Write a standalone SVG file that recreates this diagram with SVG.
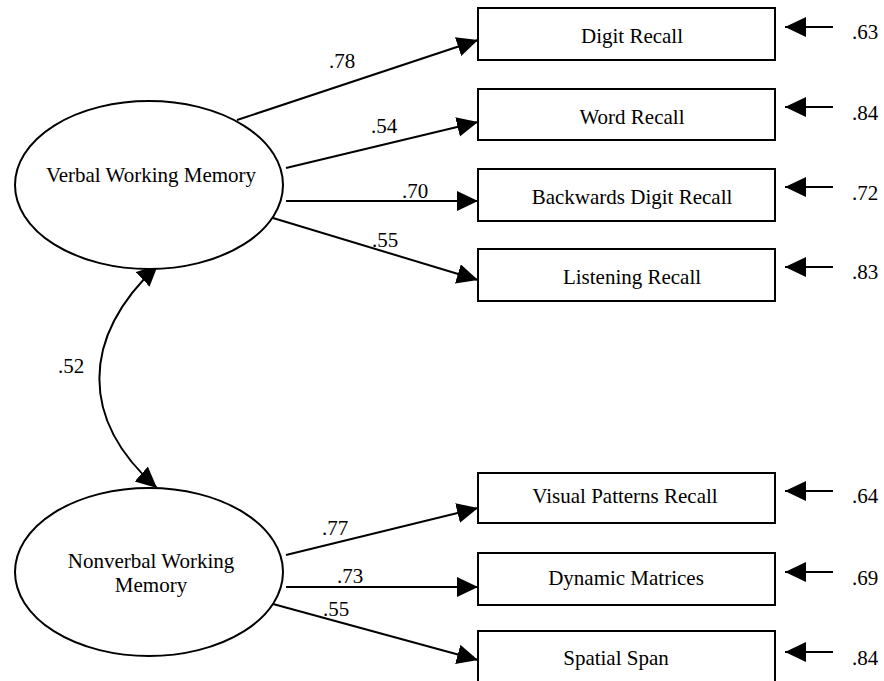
<svg xmlns="http://www.w3.org/2000/svg" width="884" height="681" viewBox="0 0 884 681">
<style>
text{font-family:"Liberation Serif","Times New Roman",serif;font-size:21px;fill:#000}
.n{text-anchor:middle}
.shape{fill:#fff;stroke:#000;stroke-width:2}
.c{fill:none;stroke:#000;stroke-width:2}
</style>
<defs>
<marker id="ah" markerUnits="userSpaceOnUse" markerWidth="22" markerHeight="21" refX="21" refY="10" orient="auto-start-reverse">
<path d="M0,0 L21,10 L0,20 z" fill="#000"/>
</marker>
</defs>
<rect width="884" height="681" fill="#fff"/>
<g id="connectors">
<path class="c" d="M237,120 L478,40" marker-end="url(#ah)"/>
<path class="c" d="M286,168 L478,122" marker-end="url(#ah)"/>
<path class="c" d="M286,201 L478,201" marker-end="url(#ah)"/>
<path class="c" d="M273,218 L478,280" marker-end="url(#ah)"/>
<path class="c" d="M286,555 L478,508" marker-end="url(#ah)"/>
<path class="c" d="M286,587 L478,587" marker-end="url(#ah)"/>
<path class="c" d="M273,604 L478,660" marker-end="url(#ah)"/>
<path class="c" d="M158,265 C80,338 80,420 157,488" marker-start="url(#ah)" marker-end="url(#ah)"/>
<path class="c" d="M833,27 L785,27" marker-end="url(#ah)"/>
<path class="c" d="M833,107 L785,107" marker-end="url(#ah)"/>
<path class="c" d="M833,187 L785,187" marker-end="url(#ah)"/>
<path class="c" d="M833,267 L785,267" marker-end="url(#ah)"/>
<path class="c" d="M833,491 L785,491" marker-end="url(#ah)"/>
<path class="c" d="M833,572 L785,572" marker-end="url(#ah)"/>
<path class="c" d="M833,652 L785,652" marker-end="url(#ah)"/>
<text x="329" y="68">.78</text>
<text x="371" y="133">.54</text>
<text x="402" y="198">.70</text>
<text x="372" y="247">.55</text>
<text x="322" y="535">.77</text>
<text x="337" y="583">.73</text>
<text x="323" y="616">.55</text>
<text x="58" y="373">.52</text>
<text x="852" y="39">.63</text>
<text x="852" y="120">.84</text>
<text x="852" y="200">.72</text>
<text x="852" y="279">.83</text>
<text x="852" y="503">.64</text>
<text x="852" y="585">.69</text>
<text x="852" y="665">.84</text>
</g>
<g id="verbal"><ellipse class="shape" cx="149" cy="185" rx="134" ry="84"/><text class="n" x="151" y="182">Verbal Working Memory</text></g>
<g id="nonverbal"><ellipse class="shape" cx="149" cy="572" rx="134" ry="84"/><text class="n" x="151" y="568">Nonverbal Working</text><text class="n" x="151" y="592">Memory</text></g>
<g id="digit"><rect class="shape" x="478" y="8" width="297" height="52"/><text class="n" x="632" y="43">Digit Recall</text></g>
<g id="word"><rect class="shape" x="478" y="89" width="297" height="51"/><text class="n" x="632" y="124">Word Recall</text></g>
<g id="backwards"><rect class="shape" x="478" y="169" width="297" height="52"/><text class="n" x="632" y="204">Backwards Digit Recall</text></g>
<g id="listening"><rect class="shape" x="478" y="249" width="297" height="52"/><text class="n" x="632" y="284">Listening Recall</text></g>
<g id="visual"><rect class="shape" x="478" y="473" width="297" height="50"/><text class="n" x="625" y="503">Visual Patterns Recall</text></g>
<g id="dynamic"><rect class="shape" x="478" y="553" width="297" height="52"/><text class="n" x="626" y="585">Dynamic Matrices</text></g>
<g id="spatial"><rect class="shape" x="478" y="631" width="297" height="54"/><text class="n" x="616" y="665">Spatial Span</text></g>
</svg>
